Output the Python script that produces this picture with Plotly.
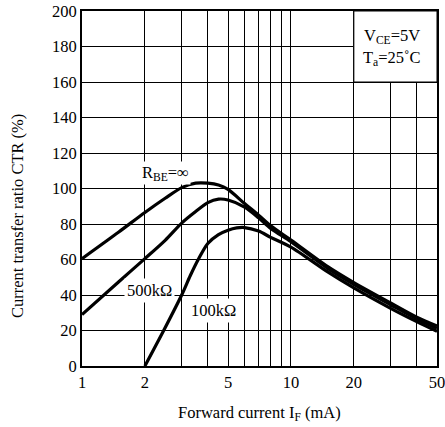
import math
import plotly.graph_objects as go

# Forward current I_F (mA)
if_inf = [1, 1.5, 2, 2.5, 3, 3.5, 4, 4.5, 5, 6, 7, 8, 10, 15, 20, 30, 40, 50]
ctr_inf = [60.5, 75.5, 86.5, 94.5, 100.5, 103, 103, 102, 99.5, 91.5, 85, 79, 71, 56, 47, 35.5, 27.5, 22.5]

if_500k = [1, 1.5, 2, 2.5, 3, 3.5, 4, 4.5, 5, 6, 7, 8, 10, 15, 20, 30, 40, 50]
ctr_500k = [29, 47.5, 60.5, 70.8, 80.5, 87, 92, 94, 93.5, 89.5, 83.5, 77.5, 70, 55, 46, 34.5, 26.5, 21.3]

if_100k = [2, 2.46, 3, 3.3, 3.6, 4, 4.5, 5, 5.5, 6, 7, 8, 10, 15, 20, 30, 40, 50]
ctr_100k = [0, 20, 40, 51, 60, 69, 74, 76.5, 77.8, 78, 76, 72.5, 67, 53, 44, 32.5, 25, 19.5]

x_major = [1, 2, 5, 10, 20, 50]
x_minor = [3, 4, 6, 7, 8, 9, 30, 40]
y_ticks = [0, 20, 40, 60, 80, 100, 120, 140, 160, 180, 200]

FONT = "Liberation Serif"
FS = 16.5

fig = go.Figure()
for xs, ys in [(if_inf, ctr_inf), (if_500k, ctr_500k), (if_100k, ctr_100k)]:
    fig.add_trace(go.Scatter(x=xs, y=ys, mode="lines",
                             line=dict(color="black", width=3.2, shape="spline", smoothing=0.8),
                             showlegend=False, hoverinfo="skip"))

fig.update_layout(
    width=445, height=427,
    margin=dict(l=82, r=8, t=11, b=61),
    paper_bgcolor="white", plot_bgcolor="white",
    font=dict(family=FONT, size=FS, color="black"),
    xaxis=dict(type="log", range=[0, math.log10(50) + 1e-9], tickmode="array", tickvals=x_major,
               ticktext=[str(v) for v in x_major], showgrid=True, gridcolor="black", gridwidth=1,
               minor=dict(tickmode="array", tickvals=x_minor, showgrid=True, gridcolor="black", gridwidth=1, ticks=""),
               showline=True, linecolor="black", linewidth=2, mirror=True, ticks="", zeroline=False,
               automargin=False, ticklabeloverflow="allow"),
    yaxis=dict(range=[0, 200], tickmode="array", tickvals=y_ticks, showgrid=True,
               gridcolor="black", gridwidth=1, showline=True, linecolor="black", linewidth=2,
               mirror=True, ticks="", zeroline=False, automargin=False, ticklabeloverflow="allow"),
)

# Condition box top-right
fig.add_shape(type="rect", xref="x", yref="y", x0=20, x1=50, y0=160, y1=200,
              fillcolor="white", line=dict(color="black", width=1), layer="above")
fig.add_annotation(x=(392 - 82) / 355, y=(366 - 36) / 355, xref="paper", yref="paper", showarrow=False,
                   text="V<sub>CE</sub>=5V", font=dict(size=FS), xanchor="center", yanchor="middle")
fig.add_annotation(x=(392 - 82) / 355, y=(366 - 58) / 355, xref="paper", yref="paper", showarrow=False,
                   text="T<sub>a</sub>=25˚C", font=dict(size=FS), xanchor="center", yanchor="middle")

# Curve labels
fig.add_annotation(x=0.40, y=109, xref="x", yref="y", showarrow=False,
                   text="R<sub>BE</sub>=∞", font=dict(size=FS), bgcolor="white", borderpad=1)
fig.add_annotation(x=0.325, y=42.5, xref="x", yref="y", showarrow=False,
                   text="500kΩ", font=dict(size=FS), bgcolor="white", borderpad=2)
fig.add_annotation(x=0.628, y=31, xref="x", yref="y", showarrow=False,
                   text="100kΩ", font=dict(size=FS), bgcolor="white", borderpad=2)

# Axis titles
fig.add_annotation(x=(259 - 82) / 355, y=-(413 - 366) / 355, xref="paper", yref="paper", showarrow=False,
                   text="Forward current I<sub>F</sub> (mA)", font=dict(size=FS), yanchor="middle")
fig.add_annotation(x=-(82 - 17) / 355, y=(366 - 216) / 355, xref="paper", yref="paper", showarrow=False,
                   text="Current transfer ratio CTR (%)", font=dict(size=FS), textangle=-90,
                   xanchor="center", yanchor="middle")

fig.write_html("out.html", config={"displayModeBar": False},
               post_script="document.body.style.margin='0';document.body.style.overflow='hidden';")
